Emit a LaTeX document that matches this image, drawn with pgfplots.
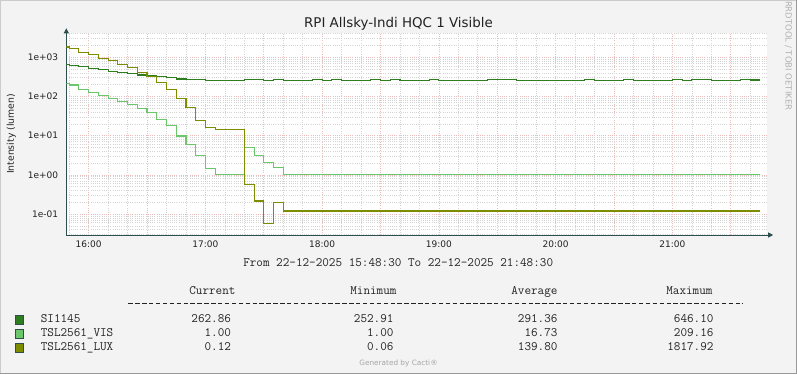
\documentclass[border=0pt]{standalone}
\usepackage{fontspec}
\setmainfont{DejaVu Sans}
\usepackage{pgfplots}
\pgfplotsset{compat=1.18}
\usetikzlibrary{arrows.meta}
\definecolor{bgc}{HTML}{F3F3F3}
\definecolor{sicol}{HTML}{2E7D1E}
\definecolor{viscol}{HTML}{6CC66C}
\definecolor{luxcol}{HTML}{7E8C00}
\definecolor{axcol}{HTML}{2F4F4F}
\definecolor{mgrid}{HTML}{EDBDBD}
\definecolor{ngrid}{HTML}{D4D4D4}
\definecolor{txt}{HTML}{222222}
\definecolor{shadea}{HTML}{CBCBCB}
\definecolor{shadeb}{HTML}{999999}
\newcommand{\ftitle}{\fontsize{13.4bp}{16bp}\selectfont}
\newcommand{\ftick}{\fontsize{9bp}{11bp}\selectfont}
\newcommand{\fmono}{\ttfamily\fontsize{12.8bp}{15bp}\selectfont}

\begin{document}
\begin{tikzpicture}[x=1bp,y=1bp]
\useasboundingbox (0,0) rectangle (797,374);
\fill[bgc] (0,0) rectangle (797,374);
\draw[shadea, line width=1bp] (0.5,0) -- (0.5,373.5) -- (797,373.5);
\draw[shadeb, line width=1bp] (0,0.5) -- (796.5,0.5) -- (796.5,374);

\begin{axis}[
  at={(66.3bp,139bp)}, anchor=south west,
  scale only axis, width=700.4bp, height=201.7bp,
  ymode=log,
  xmin=15.808333, xmax=21.808333,
  ymin=0.0293, ymax=4074,
  axis lines=left,
  axis line style={axcol, line width=1bp},
  x axis line style={-{Triangle[length=5bp,width=5bp]}, shorten >=-6.5bp},
  y axis line style={-{Triangle[length=5bp,width=5bp]}, shorten >=-5bp},
  axis background/.style={fill=white},
  xtick={16,16.5,17,17.5,18,18.5,19,19.5,20,20.5,21,21.5},
  xticklabels={16:00,,17:00,,18:00,,19:00,,20:00,,21:00,},
  minor xtick={15.833333,16.166667,16.333333,16.666667,16.833333,17.166667,17.333333,17.666667,17.833333,18.166667,18.333333,18.666667,18.833333,19.166667,19.333333,19.666667,19.833333,20.166667,20.333333,20.666667,20.833333,21.166667,21.333333,21.666667},
  ytick={0.1,1,10,100,1000},
  yticklabels={1e-01,1e+00,1e+01,1e+02,1e+03},
  minor ytick={0.03,0.04,0.05,0.06,0.07,0.08,0.09,0.2,0.3,0.4,0.5,0.6,0.7,0.8,0.9,2,3,4,5,6,7,8,9,20,30,40,50,60,70,80,90,200,300,400,500,600,700,800,900,2000,3000,4000},
  grid=both,
  major grid style={mgrid, line width=0.6bp, dash pattern=on 1bp off 1.2bp},
  minor grid style={ngrid, line width=0.6bp, dash pattern=on 1bp off 1.2bp},
  major tick length=0pt, minor tick length=0pt,
  ticklabel style={font=\ftick, text=txt},
  yticklabel style={anchor=east, inner sep=0pt, xshift=-8bp},
  xticklabel style={anchor=north, inner sep=0pt, yshift=-5.7bp},
]
\addplot[const plot, sicol, line width=1.1bp] coordinates {
(15.808333,646.10) (15.833333,620) (15.916667,590) (16,503) (16.083333,474)
(16.166667,430) (16.25,414) (16.333333,391) (16.416667,353) (16.5,333)
(16.583333,320) (16.666667,302) (16.75,279) (16.833333,275) (16.916667,266)
(17,260) (17.333333,272) (17.5,260) (17.583333,272) (17.666667,258)
(17.916667,272) (18,260) (18.083333,272) (18.166667,260) (18.416667,272)
(18.5,258) (18.583333,272) (18.666667,260) (18.916667,272) (19,258)
(19.416667,272) (19.666667,260) (20.25,272) (20.333333,253) (20.583333,272)
(20.666667,258) (21,272) (21.083333,260) (21.166667,272) (21.333333,260)
(21.583333,272) (21.666667,263) (21.75,263)
};
\addplot[const plot, viscol, line width=1.1bp] coordinates {
(15.808333,209.16) (15.833333,196) (15.916667,152) (16,128) (16.083333,103)
(16.166667,90) (16.25,74) (16.333333,61) (16.416667,50) (16.5,38)
(16.583333,26) (16.666667,18) (16.75,9.8) (16.833333,5.8) (16.916667,3.2)
(17,1.47) (17.083333,1.0) (17.333333,5.1) (17.416667,3.1) (17.5,2.1)
(17.583333,1.55) (17.666667,1.0) (21.75,1.0)
};
\addplot[const plot, luxcol, line width=1.1bp] coordinates {
(15.808333,1817.92) (15.833333,1630) (15.916667,1340) (16,1145) (16.083333,905)
(16.166667,805) (16.25,662) (16.333333,544) (16.416667,414) (16.5,321)
(16.583333,230) (16.666667,152) (16.75,90) (16.833333,52) (16.916667,25)
(17,16.4) (17.083333,14.5) (17.333333,0.575) (17.416667,0.216) (17.5,0.058)
(17.583333,0.196) (17.666667,0.12) (21.75,0.12)
};
\end{axis}

\node[anchor=base, font=\ftitle, text=txt] at (398.5,347) {RPI Allsky-Indi HQC 1 Visible};
\node[rotate=90, font=\fontsize{9.3bp}{11bp}\selectfont, text=txt] at (11.2,240) {Intensity (lumen)};
\node[rotate=-90, font=\fontsize{8.5bp}{10bp}\selectfont, text=black!30] at (788.3,318.2) {RRDTOOL / TOBI OETIKER};
\node[anchor=base, font=\fmono, text=txt] at (398.2,108) {From 22-12-2025 15:48:30 To 22-12-2025 21:48:30};

\node[anchor=base east, font=\fmono, text=txt] at (239,79.7) {Current};
\node[anchor=base east, font=\fmono, text=txt] at (400,79.7) {Minimum};
\node[anchor=base east, font=\fmono, text=txt] at (561,79.7) {Average};
\node[anchor=base east, font=\fmono, text=txt] at (716,79.7) {Maximum};
\draw[txt, line width=0.7bp, dash pattern=on 4.4bp off 2.5bp] (128.3,70.7) -- (743.3,70.7);

\filldraw[fill=sicol, draw=axcol, line width=0.8bp] (15.3,49.8) rectangle (23.5,58.6);
\filldraw[fill=viscol, draw=axcol, line width=0.8bp] (15.3,35.8) rectangle (23.5,44.6);
\filldraw[fill=luxcol, draw=axcol, line width=0.8bp] (15.3,21.8) rectangle (23.5,30.6);

\node[anchor=base west, font=\fmono, text=txt] at (37.3,51.7) {SI1145};
\node[anchor=base west, font=\fmono, text=txt] at (37.3,37.7) {TSL2561\_VIS};
\node[anchor=base west, font=\fmono, text=txt] at (37.3,23.7) {TSL2561\_LUX};

\node[anchor=base east, font=\fmono, text=txt] at (234.5,51.7) {262.86};
\node[anchor=base east, font=\fmono, text=txt] at (397,51.7) {252.91};
\node[anchor=base east, font=\fmono, text=txt] at (561,51.7) {291.36};
\node[anchor=base east, font=\fmono, text=txt] at (717,51.7) {646.10};

\node[anchor=base east, font=\fmono, text=txt] at (234.5,37.7) {1.00};
\node[anchor=base east, font=\fmono, text=txt] at (397,37.7) {1.00};
\node[anchor=base east, font=\fmono, text=txt] at (561,37.7) {16.73};
\node[anchor=base east, font=\fmono, text=txt] at (717,37.7) {209.16};

\node[anchor=base east, font=\fmono, text=txt] at (234.5,23.7) {0.12};
\node[anchor=base east, font=\fmono, text=txt] at (397,23.7) {0.06};
\node[anchor=base east, font=\fmono, text=txt] at (561,23.7) {139.80};
\node[anchor=base east, font=\fmono, text=txt] at (717,23.7) {1817.92};

\node[font=\fontsize{7.3bp}{9bp}\selectfont, text=black!35] at (398.5,10.7) {Generated by Cacti®};
\end{tikzpicture}
\end{document}
